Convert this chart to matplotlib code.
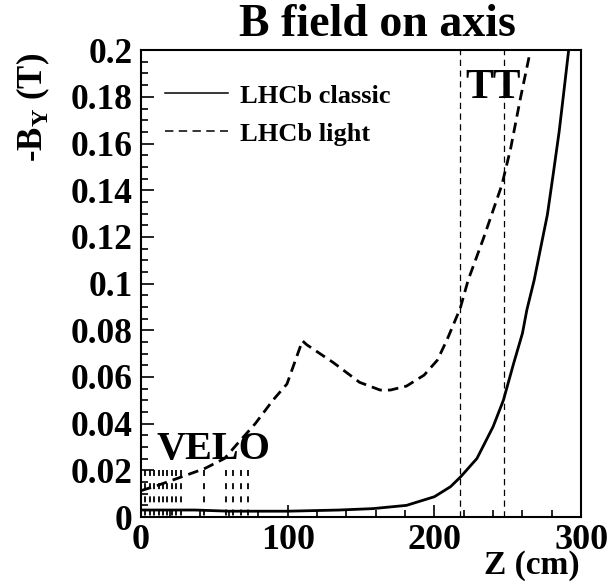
import numpy as np
import matplotlib
matplotlib.use("Agg")
import matplotlib.pyplot as plt
from matplotlib.lines import Line2D

plt.rcParams['font.family'] = ['Liberation Serif', 'DejaVu Serif']
plt.rcParams['font.weight'] = 'bold'
plt.rcParams['mathtext.fontset'] = 'custom'
plt.rcParams['mathtext.rm'] = 'Liberation Serif:bold'
plt.rcParams['mathtext.bf'] = 'Liberation Serif:bold'

# field along the beam axis
z_classic = [0, 20, 37, 60, 100, 135, 158, 181, 200, 211, 218, 229, 240, 247,
             254, 260, 263, 268, 272, 277, 281, 285, 288, 291.5]
b_classic = [0.003, 0.003, 0.003, 0.0025, 0.0025, 0.003, 0.0036, 0.005, 0.0087,
             0.013, 0.0173, 0.0251, 0.0387, 0.050, 0.0658, 0.0787, 0.0887,
             0.1015, 0.114, 0.1295, 0.147, 0.165, 0.181, 0.2]

z_light = [0, 12, 25, 43.5, 57, 66, 78, 90, 99.5, 110, 113, 131, 149, 163, 170,
           181, 193, 202, 208.5, 217.6, 223, 233.5, 246, 252, 258.5, 265.3]
b_light = [0.0113, 0.0137, 0.0166, 0.0208, 0.0251, 0.0316, 0.0401, 0.0501,
           0.057, 0.0755, 0.0738, 0.0662, 0.0577, 0.0544, 0.0544, 0.0561,
           0.0608, 0.0672, 0.0758, 0.0894, 0.1015, 0.1195, 0.1423, 0.158,
           0.179, 0.1994]

# detector positions
velo_z = [0, 3, 6, 9, 12, 15, 18, 21, 24, 27, 43, 58, 63, 68, 73]
velo_top = 0.02
tt_z = [217.5, 247.5]

xticks = [0, 100, 200, 300]
yticks = [0, 0.02, 0.04, 0.06, 0.08, 0.1, 0.12, 0.14, 0.16, 0.18, 0.2]
ytick_labels = ['0', '0.02', '0.04', '0.06', '0.08', '0.1', '0.12', '0.14',
                '0.16', '0.18', '0.2']

fig = plt.figure(figsize=(6.13, 5.88), dpi=100)
ax = fig.add_axes([0.230, 0.1207, 0.718, 0.794])

ax.plot(z_classic, b_classic, color='black', lw=2.0)
ax.plot(z_light, b_light, color='black', lw=2.0, dashes=(3.8, 2.2))

for z in tt_z:
    ax.axvline(z, color='black', lw=0.9, dashes=(5, 3.6))
for z in velo_z:
    ax.plot([z, z], [velo_top, 0], color='black', lw=1.3, dashes=(3.3, 4.0))

ax.text(221, 0.1797, 'TT', fontsize=30, fontweight='bold')
ax.text(10.4, 0.0247, 'VELO', fontsize=29, fontweight='bold')

handles = [Line2D([], [], color='black', lw=1.1),
           Line2D([], [], color='black', lw=1.1, dashes=(5.5, 3.5))]
ax.legend(handles, ['LHCb classic', 'LHCb light'], loc='upper left',
          bbox_to_anchor=(0.0545, 0.927), frameon=False, fontsize=19,
          handlelength=2.4, handletextpad=0.45, labelspacing=0.55,
          borderpad=0, borderaxespad=0)

ax.set_xlim(0, 300)
ax.set_ylim(0, 0.2)
ax.set_xticks(xticks)
ax.set_xticks(np.arange(0, 301, 20), minor=True)
ax.set_yticks(yticks)
ax.set_yticklabels(ytick_labels)
ax.set_yticks(np.arange(0, 0.2001, 0.005), minor=True)
ax.tick_params(which='both', direction='in', top=False, right=False, width=1.2)
ax.tick_params(which='major', length=9)
ax.tick_params(which='minor', length=5)
ax.tick_params(axis='x', labelsize=26, pad=5)
ax.tick_params(axis='y', labelsize=25.5, pad=6)
for s in ax.spines.values():
    s.set_linewidth(1.5)

fig.text(377 / 613, 1 - 36 / 588, 'B field on axis', fontsize=33,
         fontweight='bold', ha='center', va='baseline')
fig.text(580 / 613, 1 - 574 / 588, 'Z (cm)', fontsize=24,
         fontweight='bold', ha='right', va='baseline')
fig.text(33 / 613, 1 - 53 / 588, r'-B$_{\mathbf{Y}}$ (T)', fontsize=25,
         fontweight='bold', ha='center', va='top', rotation=90)

fig.savefig('out.png', dpi=100)
